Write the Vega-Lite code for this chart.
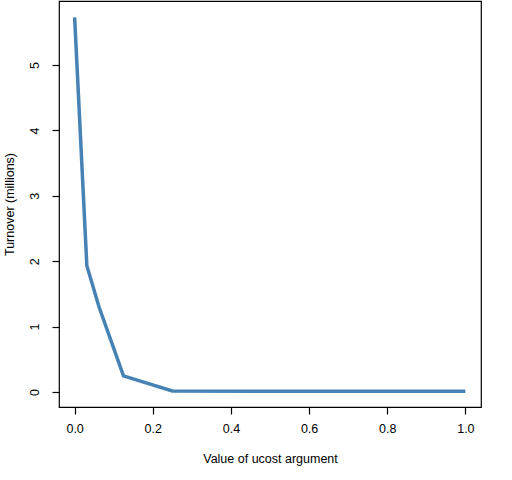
{
  "$schema": "https://vega.github.io/schema/vega-lite/v6.json",
  "autosize": "none",
  "width": 422,
  "height": 406,
  "padding": {"left": 59, "top": 1, "right": 31, "bottom": 73},
  "background": "white",
  "data": {
    "values": [
      {"ucost": 0, "turnover": 5.73},
      {"ucost": 0.03125, "turnover": 1.93},
      {"ucost": 0.0625, "turnover": 1.3},
      {"ucost": 0.125, "turnover": 0.245},
      {"ucost": 0.25, "turnover": 0.015},
      {"ucost": 0.5, "turnover": 0.012},
      {"ucost": 1, "turnover": 0.012}
    ]
  },
  "mark": {"type": "line", "color": "#4682B4", "strokeWidth": 3.5, "clip": true},
  "encoding": {
    "x": {
      "field": "ucost",
      "type": "quantitative",
      "scale": {"domain": [-0.04, 1.04], "nice": false, "zero": false},
      "axis": {
        "title": "Value of ucost argument",
        "values": [0, 0.2, 0.4, 0.6, 0.8, 1.0],
        "format": ".1f",
        "labelPadding": 8,
        "titlePadding": 18
      }
    },
    "y": {
      "field": "turnover",
      "type": "quantitative",
      "scale": {"domain": [-0.23, 5.98], "nice": false, "zero": false},
      "axis": {
        "title": "Turnover (millions)",
        "values": [0, 1, 2, 3, 4, 5],
        "labelAngle": -90,
        "labelAlign": "center",
        "labelBaseline": "bottom",
        "labelPadding": 11,
        "titlePadding": 12
      }
    }
  },
  "config": {
    "view": {"stroke": "black", "strokeWidth": 1.2},
    "axis": {
      "domain": false,
      "grid": false,
      "ticks": true,
      "tickColor": "black",
      "tickSize": 7,
      "tickWidth": 1.2,
      "labelFont": "Liberation Sans",
      "labelFontSize": 12.5,
      "labelColor": "black",
      "titleFont": "Liberation Sans",
      "titleFontSize": 12.5,
      "titleFontWeight": "normal",
      "titleColor": "black"
    }
  }
}
